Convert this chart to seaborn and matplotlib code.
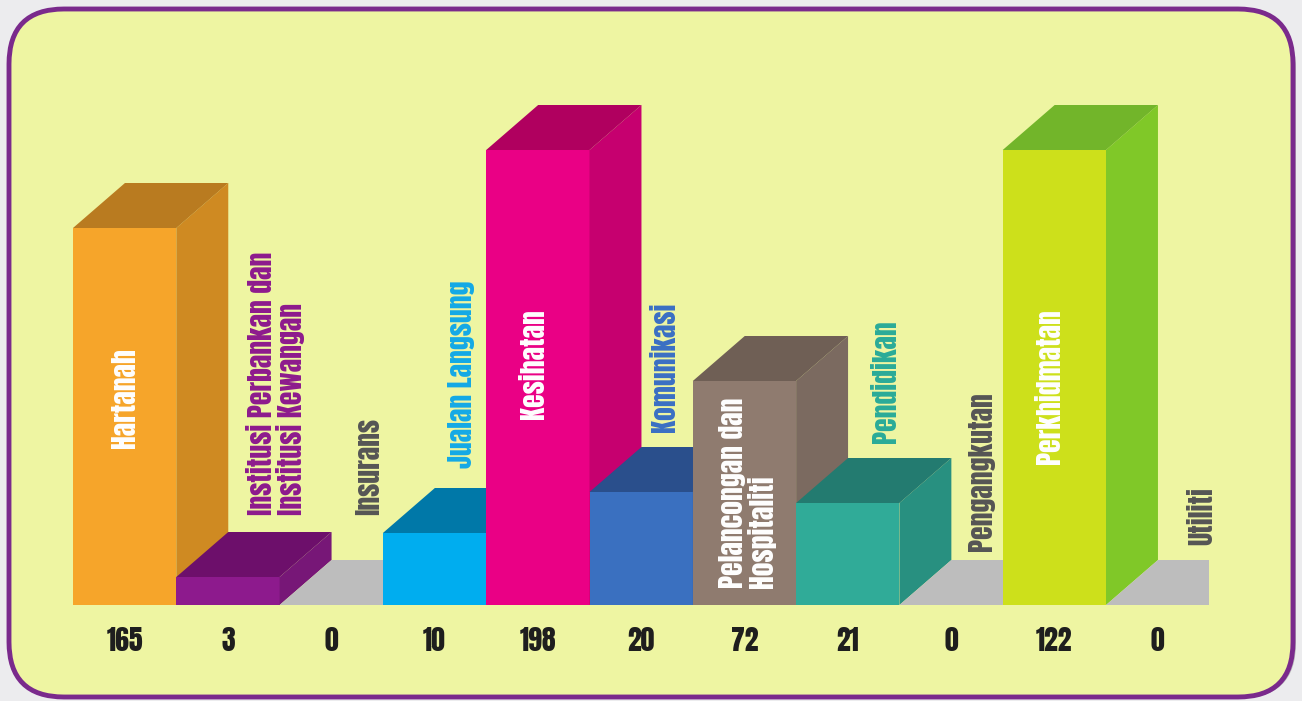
import matplotlib
matplotlib.use("Agg")
import matplotlib.pyplot as plt
import seaborn as sns
from matplotlib.patches import Polygon, FancyBboxPatch

# ---- data ----
categories = ["Hartanah", "Institusi Perbankan dan\nInstitusi Kewangan", "Insurans",
              "Jualan Langsung", "Kesihatan", "Komunikasi",
              "Pelancongan dan\nHospitaliti", "Pendidikan", "Pengangkutan",
              "Perkhidmatan", "Utiliti"]
values = [165, 3, 0, 10, 198, 20, 72, 21, 0, 122, 0]
# bar heights as drawn in the picture (not proportional to the values)
bar_heights = [377, 28, 0, 72, 455, 113, 224, 102, 0, 455, 0]

front_colors = ["#f6a52a", "#8d1a8d", "#bdbdbd", "#00adef", "#ea0085", "#3a70c0",
                "#8f7b6f", "#30ab98", "#bdbdbd", "#cde01b", "#bdbdbd"]
side_colors = ["#cf8a22", "#771777", "#bdbdbd", "#0090c8", "#c6006f", "#2f5ea6",
               "#7b6a60", "#289080", "#bdbdbd", "#80c828", "#bdbdbd"]
top_colors = ["#b97b20", "#6d0f6b", "#bdbdbd", "#0078a8", "#b0005f", "#2a4f8c",
              "#6f5f55", "#237b70", "#bdbdbd", "#72b52a", "#bdbdbd"]
label_colors = ["white", "#8d1a8d", "#555555", "#13a9e6", "white", "#3a6fc4",
                "white", "#2aab98", "#555555", "white", "#555555"]
label_inside = [True, False, False, False, True, False, True, False, False, True, False]

# ---- layout (styling) ----
W, H = 1302, 701
DX = 0.503          # depth offset in category units
DY = 45             # depth offset in height units
label_dx = [0, 0.47, 0.36, 0.26, -0.04, 0.23, 0.03, 0.37, 0.29, -0.05, 0.43]
label_gap = [0, 17, 45, 20, 0, 15, 0, 15, 9, 0, 15]
label_frac = [0.55, 0, 0, 0, 0.53, 0, 0.5, 0, 0, 0.48, 0]

FONT = ["Anton", "Oswald", "Roboto Condensed", "DejaVu Sans"]
plt.rcParams["font.family"] = FONT

fig = plt.figure(figsize=(W / 100, H / 100), dpi=100)
fig.patch.set_facecolor("#ececee")

# background panel
bg = fig.add_axes([0, 0, 1, 1], zorder=-5)
bg.set_xlim(0, W)
bg.set_ylim(H, 0)
bg.axis("off")
shadow = FancyBboxPatch((14, 14), 1282, 684, boxstyle="round,pad=0,rounding_size=55",
                        fc="#8a8a8a", ec="none", alpha=0.55)
bg.add_patch(shadow)
panel = FancyBboxPatch((9, 9), 1284, 688, boxstyle="round,pad=0,rounding_size=55",
                       fc="#eef5a2", ec="#7a2a8c", lw=3.5)
bg.add_patch(panel)

# main axes
ax = fig.add_axes([73 / W, (H - 605) / H, 11 * 103.3 / W, 505 / H])
ax.patch.set_alpha(0)
sns.barplot(x=list(range(len(categories))), y=bar_heights, hue=list(range(len(categories))),
            palette=front_colors, width=1.0, saturation=1, legend=False, ax=ax,
            linewidth=0)
ax.set_xlim(-0.5, 10.5)
ax.set_ylim(0, 505)

fronts = list(ax.patches)
for i, p in enumerate(fronts):
    x0 = p.get_x()
    w = p.get_width()
    h = p.get_height()
    x1 = x0 + w
    p.set_zorder(2 + 3 * i)
    if h > 0:
        side = Polygon([(x1, 0), (x1, h), (x1 + DX, h + DY), (x1 + DX, DY)],
                       closed=True, fc=side_colors[i], ec="none", zorder=3 + 3 * i)
        ax.add_patch(side)
    top = Polygon([(x0, h), (x1, h), (x1 + DX, h + DY), (x0 + DX, h + DY)],
                  closed=True, fc=top_colors[i], ec="none", zorder=4 + 3 * i)
    ax.add_patch(top)

    kw = dict(rotation=90, ha="center", multialignment="left", color=label_colors[i],
              fontsize=20, fontweight="bold", zorder=60, linespacing=1.05)
    if label_inside[i]:
        ax.text(i + label_dx[i], h * label_frac[i], categories[i], va="center", **kw)
    else:
        ax.text(i + label_dx[i], h + DY + label_gap[i], categories[i], va="bottom", **kw)

ax.set_xticks(range(len(categories)))
ax.set_xticklabels([str(v) for v in values], fontsize=20, fontweight="bold", color="#1e1e1e")
ax.tick_params(axis="x", length=0, pad=16)
ax.set_yticks([])
ax.set_xlabel("")
ax.set_ylabel("")
for s in ax.spines.values():
    s.set_visible(False)

fig.savefig("out.png", dpi=100, facecolor=fig.get_facecolor())
